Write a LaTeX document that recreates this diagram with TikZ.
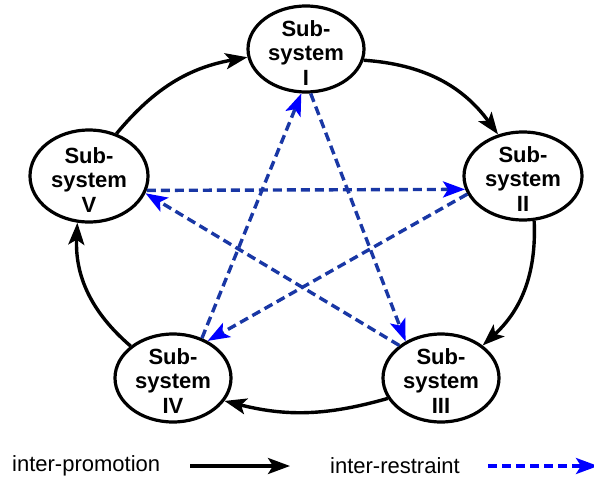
\documentclass[tikz,border=0pt]{standalone}
\usepackage{fontspec}
\setmainfont{Liberation Sans}
\usetikzlibrary{shapes.geometric,arrows.meta}
\definecolor{dblue}{RGB}{25,55,165}
\definecolor{hblue}{RGB}{0,0,255}
\begin{document}
\begin{tikzpicture}[x=1pt,y=-1pt,
  sub/.style={ellipse, draw, line width=3.2pt, inner sep=0pt},
  lbl/.style={font=\bfseries\fontsize{22}{24.5}\selectfont, align=center, inner sep=0pt},
  legtxt/.style={font=\fontsize{22}{24}\selectfont, anchor=west, inner sep=0pt},
  prom/.style={line width=3.4pt, -{Stealth[length=22pt,width=16pt,inset=5pt]}},
  restr/.style={line width=3.4pt, dblue, dash pattern=on 9pt off 5pt, -{Stealth[length=22pt,width=16pt,inset=5pt,color=hblue]}},
]
\useasboundingbox (0,0) rectangle (594,479);

% subsystems
\node[sub, minimum width=116pt, minimum height=86pt] (I) at (306,49) {};
\node[lbl] (tI) at (306,53) {Sub-\\system\\I};
\node[sub, minimum width=118pt, minimum height=88pt] (II) at (523,176) {};
\node[lbl] (tII) at (523,179) {Sub-\\system\\II};
\node[sub, minimum width=116pt, minimum height=88pt] (III) at (441,378) {};
\node[lbl] (tIII) at (441,381) {Sub-\\system\\III};
\node[sub, minimum width=116pt, minimum height=88pt] (IV) at (173,378) {};
\node[lbl] (tIV) at (173,381) {Sub-\\system\\IV};
\node[sub, minimum width=118pt, minimum height=92pt] (V) at (89,176) {};
\node[lbl] (tV) at (89,180) {Sub-\\system\\V};

% inter-promotion
\draw[prom] (V.57) to[bend left=20] (I.188);
\draw[prom] (I.-11) to[bend left=25] (II.121);
\draw[prom] (II.-76) to[bend left=25] (III.38);
\draw[prom] (III.201) to[bend left=15] (IV.336);
\draw[prom] (IV.143) to[bend left=26] (V.256);

% inter-restraint
\draw[restr] (V.-14) -- (II.193);
\draw[restr] (II.198) -- (IV.47);
\draw[restr] (IV.54) -- (I.264);
\draw[restr] (I.276) -- (III.134);
\draw[restr] (III.142) -- (V.-17);

% legend
\node[legtxt] (lp) at (12,466) {inter-promotion};
\coordinate (lpa) at (190,466);
\coordinate (lpb) at (290,466);
\draw[prom] (lpa) -- (lpb);
\node[legtxt] (lr) at (330,466) {inter-restraint};
\coordinate (lra) at (488,466);
\coordinate (lrb) at (598,466);
\draw[restr, hblue] (lra) -- (lrb);
\end{tikzpicture}
\end{document}
